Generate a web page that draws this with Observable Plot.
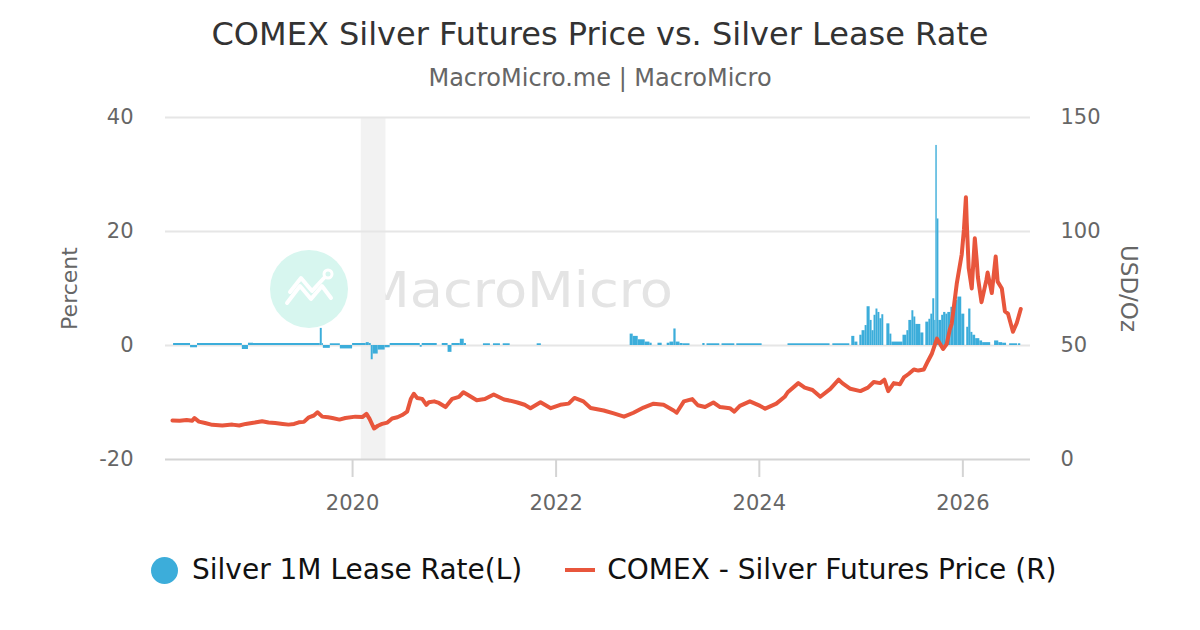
<!DOCTYPE html>
<html><head><meta charset="utf-8">
<script src="https://cdn.jsdelivr.net/npm/d3@7"></script>
<script src="https://cdn.jsdelivr.net/npm/@observablehq/plot@0.6"></script>
<style>
html,body{margin:0;padding:0;background:#fff;width:1200px;height:630px;overflow:hidden;font-family:"DejaVu Sans",sans-serif;}
#title{position:absolute;left:0;width:1200px;top:18px;text-align:center;font-size:32px;line-height:1;color:#333;white-space:nowrap;}
#subtitle{position:absolute;left:0;width:1200px;top:66px;text-align:center;font-size:24px;line-height:1;color:#666;white-space:nowrap;}
#wm{position:absolute;left:0;top:0;}
#chart{position:absolute;left:0;top:100px;}
#legend{position:absolute;left:151px;top:556px;display:flex;align-items:center;font-size:28px;line-height:1;color:#111;white-space:nowrap;}
#legend .dot{width:27px;height:27px;border-radius:50%;display:inline-block;margin-right:14px;}
#legend .dash{width:30px;height:4px;display:inline-block;margin-left:43px;margin-right:12px;}
</style></head>
<body>
<div id="title">COMEX Silver Futures Price vs. Silver Lease Rate</div>
<div id="subtitle">MacroMicro.me | MacroMicro</div>
<svg id="wm" width="1200" height="630">
  <circle cx="309" cy="289" r="39" fill="#d7f6ef"/>
  <polyline points="287,303 300,286 311,299 322,286 331,298" fill="none" stroke="#fff" stroke-width="4" stroke-linejoin="round" stroke-linecap="round"/>
  <polyline points="290,292 301,278 312,291 324,278" fill="none" stroke="#fff" stroke-width="4" stroke-linejoin="round" stroke-linecap="round"/>
  <circle cx="328" cy="274" r="4" fill="none" stroke="#fff" stroke-width="3"/>
  <text x="363" y="307" font-size="50" fill="#e4e4e4" font-family="DejaVu Sans" textLength="310" lengthAdjust="spacingAndGlyphs">MacroMicro</text>
</svg>
<div id="chart"></div>
<div id="legend"></div>
<script>
// ---- data ----
const seriesNames = ["Silver 1M Lease Rate(L)", "COMEX - Silver Futures Price (R)"];
const seriesColors = ["#3cadda", "#e8563c"];

const priceDates = ["2018-03-25","2018-04-20","2018-05-15","2018-06-04","2018-06-12","2018-06-28","2018-07-20","2018-08-15","2018-09-20","2018-10-26","2018-11-20","2018-12-13",
"2019-01-15","2019-02-10","2019-03-05","2019-03-29","2019-04-25","2019-05-16","2019-06-05","2019-06-22","2019-07-10","2019-07-28","2019-08-15","2019-08-28","2019-09-14","2019-10-05","2019-10-20","2019-11-15","2019-12-06",
"2020-01-11","2020-02-05","2020-02-20","2020-03-02","2020-03-18","2020-04-01","2020-04-16","2020-05-05","2020-05-22","2020-06-10","2020-06-27","2020-07-15","2020-07-28","2020-08-08","2020-08-20","2020-09-07","2020-09-22","2020-10-01","2020-10-20","2020-11-06","2020-11-30","2020-12-24",
"2021-01-17","2021-02-02","2021-02-16","2021-03-22","2021-04-20","2021-05-22","2021-06-28","2021-07-20","2021-08-15","2021-09-10","2021-10-01","2021-11-06","2021-12-13",
"2022-01-16","2022-02-15","2022-03-08","2022-04-09","2022-05-05","2022-06-21","2022-07-27","2022-09-02","2022-10-06","2022-11-11","2022-12-17",
"2023-01-22","2023-02-27","2023-03-10","2023-04-05","2023-05-05","2023-05-25","2023-06-20","2023-07-20","2023-08-13","2023-09-17","2023-10-03","2023-10-23","2023-11-28",
"2024-01-04","2024-01-22","2024-03-02","2024-04-01","2024-04-12","2024-05-20","2024-06-12","2024-07-10","2024-08-07","2024-09-12","2024-10-12","2024-10-25","2024-11-23","2024-12-29",
"2025-01-25","2025-02-15","2025-03-10","2025-03-25","2025-04-08","2025-04-28","2025-05-20","2025-06-03","2025-06-20","2025-07-09","2025-07-25","2025-08-14","2025-08-28","2025-09-12","2025-09-30","2025-10-22","2025-11-04","2025-11-15","2025-11-22","2025-12-10","2025-12-28",
"2026-01-05","2026-01-12","2026-01-15","2026-01-22","2026-02-02","2026-02-13","2026-02-20","2026-02-24","2026-03-09","2026-03-27","2026-03-31","2026-04-15","2026-04-29","2026-05-06","2026-05-21","2026-06-01","2026-06-12","2026-06-30","2026-07-14","2026-07-28"];
const priceValues = [17.1,17.0,17.3,17.0,18.2,16.6,16.0,15.2,14.9,15.3,14.9,15.6,
16.2,16.8,16.2,16.0,15.6,15.3,15.6,16.3,16.5,18.5,19.3,20.7,18.8,18.5,18.2,17.5,18.2,
18.8,18.6,20.0,17.8,13.6,14.8,15.6,16.2,18.0,18.5,19.5,21.0,26.5,28.8,27.0,26.6,24.0,25.1,25.5,24.8,23.0,26.6,
27.5,29.5,28.5,26.0,26.5,28.5,26.3,25.8,25.0,24.0,22.5,25.1,22.5,
24.0,24.5,27.0,25.5,22.6,21.5,20.2,18.8,20.5,22.8,24.5,
24.0,21.5,20.5,25.5,26.5,23.8,23.0,25.0,23.0,22.5,21.0,23.5,25.5,
23.5,22.3,24.5,27.5,29.5,33.5,31.5,30.5,27.5,31.0,35.0,33.5,31.0,30.0,
31.5,34.0,33.5,35.0,30.0,33.5,33.0,36.0,37.5,39.5,39.0,39.5,43.0,46.5,53.0,48.5,50.6,57.0,59.5,77.0,90.0,
101,115,104,84,75,97,87,80,69,79,82,73,89,78,75,65,64,56,60,66];

// lease rate: each value holds from its date until the next date (null = no data)
const leaseDates = ["2018-03-29","2018-05-29","2018-06-23","2018-12-01","2018-12-23","2019-01-10","2019-09-07","2019-09-14","2019-09-18","2019-10-13","2019-11-18",
"2020-01-01","2020-02-19","2020-03-01","2020-03-08","2020-03-15","2020-04-02","2020-04-27","2020-05-15","2020-08-31","2020-09-07","2020-10-31","2020-11-18","2020-12-09","2020-12-23",
"2021-01-22","2021-02-05","2021-02-13","2021-04-15","2021-05-10","2021-05-21","2021-06-15","2021-06-25","2021-07-20","2021-10-25","2021-11-09",
"2022-09-24","2022-10-05","2022-10-23","2022-11-17","2022-12-04","2022-12-12",
"2023-01-02","2023-01-17","2023-02-04","2023-02-14","2023-02-28","2023-03-08","2023-03-22","2023-04-02","2023-04-27","2023-06-12","2023-06-20","2023-06-27","2023-08-12","2023-08-20","2023-10-05","2023-10-12",
"2024-01-11","2024-04-13","2024-09-11","2024-09-21","2024-11-21","2024-11-28","2024-12-09","2024-12-20","2024-12-27",
"2025-01-04","2025-01-15","2025-01-22","2025-02-02","2025-02-09","2025-02-16","2025-02-23","2025-03-02","2025-03-09","2025-03-16","2025-03-23","2025-04-03","2025-04-14","2025-04-21","2025-05-31","2025-06-14","2025-06-21","2025-07-02","2025-07-09","2025-07-16","2025-08-03","2025-08-14","2025-08-21","2025-09-01","2025-09-08","2025-09-15","2025-09-22","2025-09-26","2025-10-01","2025-10-07","2025-10-17","2025-10-24","2025-11-01","2025-11-08","2025-11-19","2025-11-30","2025-12-14","2025-12-28",
"2026-01-08","2026-01-15","2026-01-22","2026-01-30","2026-02-06","2026-02-16","2026-03-03","2026-03-13","2026-04-11","2026-04-25","2026-05-10","2026-05-24","2026-06-07","2026-06-18","2026-07-17","2026-07-20","2026-07-28"];
const leaseValues = [0.35,-0.4,0.35,-0.7,0.4,0.35,3.0,0.35,-0.5,0.3,-0.6,
0.35,0.5,0.35,-2.5,-1.5,-0.8,-0.4,0.35,-0.3,0.35,null,0.35,-1.2,0.35,
1.1,0.35,null,0.3,null,0.3,null,0.3,null,0.3,null,
2.0,1.6,1.0,0.6,0.4,null,
0.4,null,0.4,0.6,2.9,0.6,0.35,0.3,null,0.35,null,0.3,null,0.3,null,0.3,
null,0.3,null,0.3,null,1.6,0.6,null,1.8,
2.6,3.5,6.8,4.4,2.6,5.3,6.4,5.8,4.7,5.4,null,3.8,2.0,0.6,1.8,2.6,4.4,6.1,5.0,3.7,2.2,null,4.1,4.6,5.5,8.2,4.4,35.1,22.2,4.4,5.3,5.8,5.5,5.8,6.7,7.9,8.5,5.5,
null,3.2,6.4,2.3,1.8,1.2,0.8,0.5,null,0.8,0.5,0.4,null,0.3,null,0.3,null];

const recessionStart = ["2020-02-01"];
const recessionEnd = ["2020-04-30"];
const leftTicks = [-20, 0, 20, 40];
const gridValues = [0, 20, 40];
const xTickDates = ["2020-01-01","2022-01-01","2024-01-01","2026-01-01"];
const xDomain = ["2018-02-28","2026-09-01"];
const axisLeftLabel = "Percent";
const axisRightLabel = "USD/Oz";

// ---- build ----
const parse = d3.utcParse("%Y-%m-%d");
const price = priceDates.map((d, i) => ({date: parse(d), v: priceValues[i]}));
const lease = [];
for (let i = 0; i < leaseDates.length - 1; i++) {
  if (leaseValues[i] != null) lease.push({x1: parse(leaseDates[i]), x2: parse(leaseDates[i + 1]), v: leaseValues[i]});
}
const bands = recessionStart.map((s, i) => ({x1: parse(s), x2: parse(recessionEnd[i])}));
// right axis (USD/Oz) mapped onto the left scale: USD = 2.5 * percent + 50
const toLeft = p => (p - 50) / 2.5;
const toRight = l => String(l * 2.5 + 50);

const chart = Plot.plot({
  width: 1200, height: 430,
  marginTop: 17, marginBottom: 71, marginLeft: 165, marginRight: 170,
  style: {background: "transparent", fontFamily: "DejaVu Sans", overflow: "visible"},
  x: {type: "utc", domain: xDomain.map(parse)},
  y: {domain: [-20, 40]},
  marks: [
    Plot.rect(bands, {x1: "x1", x2: "x2", fill: "#f2f2f2"}),
    Plot.ruleY(gridValues, {stroke: "#e6e6e6", strokeWidth: 2}),
    Plot.rect(lease, {x1: "x1", x2: "x2", y1: 0, y2: "v", fill: seriesColors[0]}),
    Plot.line(price, {x: "date", y: d => toLeft(d.v), stroke: seriesColors[1], strokeWidth: 4, strokeLinejoin: "round"}),
    Plot.ruleY([-20], {stroke: "#d4d4d4", strokeWidth: 2}),
    Plot.axisX({ticks: xTickDates.map(parse), tickFormat: d3.utcFormat("%Y"), tickSize: 18, tickPadding: 18, fontSize: 21, fill: "#666", stroke: "#d4d4d4", strokeWidth: 2, label: null}),
    Plot.axisY({anchor: "left", ticks: leftTicks, tickFormat: d => String(d), tickSize: 0, tickPadding: 32, fontSize: 21, fill: "#666", label: null}),
    Plot.axisY({anchor: "right", ticks: leftTicks, tickFormat: toRight, tickSize: 0, tickPadding: 30, fontSize: 21, fill: "#666", label: null}),
    Plot.text([axisLeftLabel], {text: d => d, frameAnchor: "left", dx: -96, rotate: -90, textAnchor: "middle", fontSize: 22, fill: "#666"}),
    Plot.text([axisRightLabel], {text: d => d, frameAnchor: "right", dx: 98, rotate: 90, textAnchor: "middle", fontSize: 23, fill: "#666"})
  ]
});
document.getElementById("chart").appendChild(chart);

const legend = document.getElementById("legend");
legend.innerHTML =
  `<span class="dot" style="background:${seriesColors[0]}"></span><span>${seriesNames[0]}</span>` +
  `<span class="dash" style="background:${seriesColors[1]}"></span><span>${seriesNames[1]}</span>`;
</script>
</body></html>
